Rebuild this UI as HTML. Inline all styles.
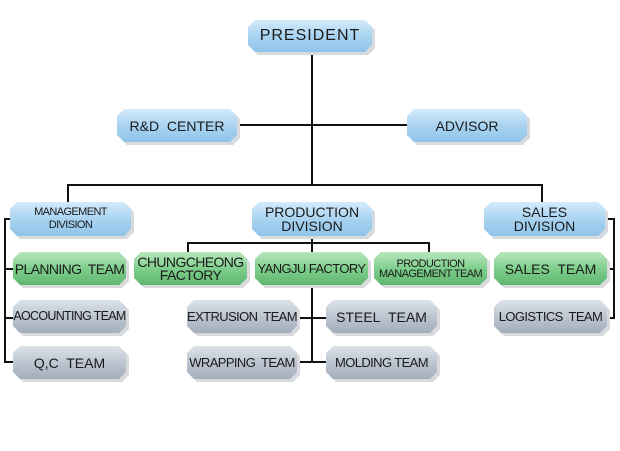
<!DOCTYPE html>
<html><head><style>
body{margin:0;width:620px;height:451px;background:#fff;position:relative;overflow:hidden;font-family:"Liberation Sans",sans-serif;}
.b{position:absolute;display:flex;align-items:center;justify-content:center;text-align:center;color:#1a1a1a;line-height:1;white-space:nowrap;
clip-path:polygon(7px 0,calc(100% - 7px) 0,100% 7px,100% calc(100% - 7px),calc(100% - 7px) 100%,7px 100%,0 calc(100% - 7px),0 7px);}
.sh{position:absolute;background:#d8dadd;clip-path:polygon(7px 0,calc(100% - 7px) 0,100% 7px,100% calc(100% - 7px),calc(100% - 7px) 100%,7px 100%,0 calc(100% - 7px),0 7px);}
.bl{background:linear-gradient(#d4ebfb,#a9d3f1 50%,#8fc4ea);}
.gr{background:linear-gradient(#b7e7bd,#7fcf8c 50%,#5fb66f);}
.gy{background:linear-gradient(#dde3ea,#bcc5d0 50%,#a4aebb);}
.l{position:absolute;background:#111;}
.c{letter-spacing:-0.6px}
</style></head><body>
<div class="l" style="left:311px;top:52px;width:2px;height:134px"></div>
<div class="l" style="left:237px;top:124px;width:170px;height:2px"></div>
<div class="l" style="left:67px;top:184px;width:476px;height:2px"></div>
<div class="l" style="left:67px;top:184px;width:2px;height:18px"></div>
<div class="l" style="left:541px;top:184px;width:2px;height:18px"></div>
<div class="l" style="left:311px;top:236px;width:2px;height:16px"></div>
<div class="l" style="left:187px;top:242px;width:243px;height:2px"></div>
<div class="l" style="left:187px;top:242px;width:2px;height:10px"></div>
<div class="l" style="left:428px;top:242px;width:2px;height:10px"></div>
<div class="l" style="left:311px;top:285px;width:2px;height:78px"></div>
<div class="l" style="left:297px;top:317px;width:29px;height:2px"></div>
<div class="l" style="left:297px;top:361px;width:29px;height:2px"></div>
<div class="l" style="left:4px;top:218px;width:2px;height:145px"></div>
<div class="l" style="left:4px;top:218px;width:7px;height:2px"></div>
<div class="l" style="left:4px;top:268px;width:9px;height:2px"></div>
<div class="l" style="left:4px;top:317px;width:9px;height:2px"></div>
<div class="l" style="left:4px;top:361px;width:9px;height:2px"></div>
<div class="l" style="left:613px;top:218px;width:2px;height:101px"></div>
<div class="l" style="left:605px;top:218px;width:9px;height:2px"></div>
<div class="l" style="left:607px;top:268px;width:7px;height:2px"></div>
<div class="l" style="left:607px;top:317px;width:7px;height:2px"></div>

<div class="sh" style="left:251px;top:23px;width:124px;height:32px"></div>
<div class="sh" style="left:120px;top:112px;width:120px;height:33px"></div>
<div class="sh" style="left:410px;top:112px;width:120px;height:33px"></div>
<div class="sh" style="left:13px;top:205px;width:121px;height:34px"></div>
<div class="sh" style="left:255px;top:205px;width:120px;height:34px"></div>
<div class="sh" style="left:487px;top:205px;width:121px;height:34px"></div>
<div class="sh" style="left:16px;top:255px;width:113px;height:33px"></div>
<div class="sh" style="left:16px;top:303px;width:113px;height:33px"></div>
<div class="sh" style="left:16px;top:349px;width:113px;height:33px"></div>
<div class="sh" style="left:137px;top:255px;width:113px;height:33px"></div>
<div class="sh" style="left:258px;top:255px;width:113px;height:33px"></div>
<div class="sh" style="left:377px;top:255px;width:113px;height:33px"></div>
<div class="sh" style="left:497px;top:255px;width:113px;height:33px"></div>
<div class="sh" style="left:497px;top:303px;width:113px;height:33px"></div>
<div class="sh" style="left:190px;top:303px;width:110px;height:33px"></div>
<div class="sh" style="left:329px;top:303px;width:111px;height:33px"></div>
<div class="sh" style="left:190px;top:349px;width:110px;height:33px"></div>
<div class="sh" style="left:329px;top:349px;width:111px;height:33px"></div>

<div class="b bl" style="left:248px;top:20px;width:124px;height:32px;font-size:16px;letter-spacing:1px">PRESIDENT</div>
<div class="b bl" style="left:117px;top:109px;width:120px;height:33px;font-size:14px">R&amp;D&nbsp; CENTER</div>
<div class="b bl" style="left:407px;top:109px;width:120px;height:33px;font-size:14px">ADVISOR</div>
<div class="b bl c" style="left:10px;top:202px;width:121px;height:34px;font-size:11px;line-height:13px">MANAGEMENT<br>DIVISION</div>
<div class="b bl" style="left:252px;top:202px;width:120px;height:34px;font-size:14px;line-height:14px">PRODUCTION<br>DIVISION</div>
<div class="b bl" style="left:484px;top:202px;width:121px;height:34px;font-size:14px;line-height:14px">SALES<br>DIVISION</div>
<div class="b gr c" style="left:13px;top:252px;width:113px;height:33px;font-size:14px">PLANNING&nbsp; TEAM</div>
<div class="b gy" style="left:13px;top:300px;width:113px;height:33px;font-size:12.5px;letter-spacing:-0.7px">AOCOUNTING TEAM</div>
<div class="b gy" style="left:13px;top:346px;width:113px;height:33px;font-size:14px">Q,C&nbsp; TEAM</div>
<div class="b gr c" style="left:134px;top:252px;width:113px;height:33px;font-size:14px;line-height:13px">CHUNGCHEONG<br>FACTORY</div>
<div class="b gr" style="left:255px;top:252px;width:113px;height:33px;font-size:13px;letter-spacing:-0.6px">YANGJU FACTORY</div>
<div class="b gr c" style="left:374px;top:252px;width:113px;height:33px;font-size:11px;line-height:10px">PRODUCTION<br>MANAGEMENT TEAM</div>
<div class="b gr" style="left:494px;top:252px;width:113px;height:33px;font-size:14px">SALES&nbsp; TEAM</div>
<div class="b gy c" style="left:494px;top:300px;width:113px;height:33px;font-size:13px">LOGISTICS&nbsp; TEAM</div>
<div class="b gy c" style="left:187px;top:300px;width:110px;height:33px;font-size:13px">EXTRUSION&nbsp; TEAM</div>
<div class="b gy" style="left:326px;top:300px;width:111px;height:33px;font-size:14px">STEEL&nbsp; TEAM</div>
<div class="b gy c" style="left:187px;top:346px;width:110px;height:33px;font-size:13px">WRAPPING&nbsp; TEAM</div>
<div class="b gy c" style="left:326px;top:346px;width:111px;height:33px;font-size:13px">MOLDING TEAM</div>
</body></html>
